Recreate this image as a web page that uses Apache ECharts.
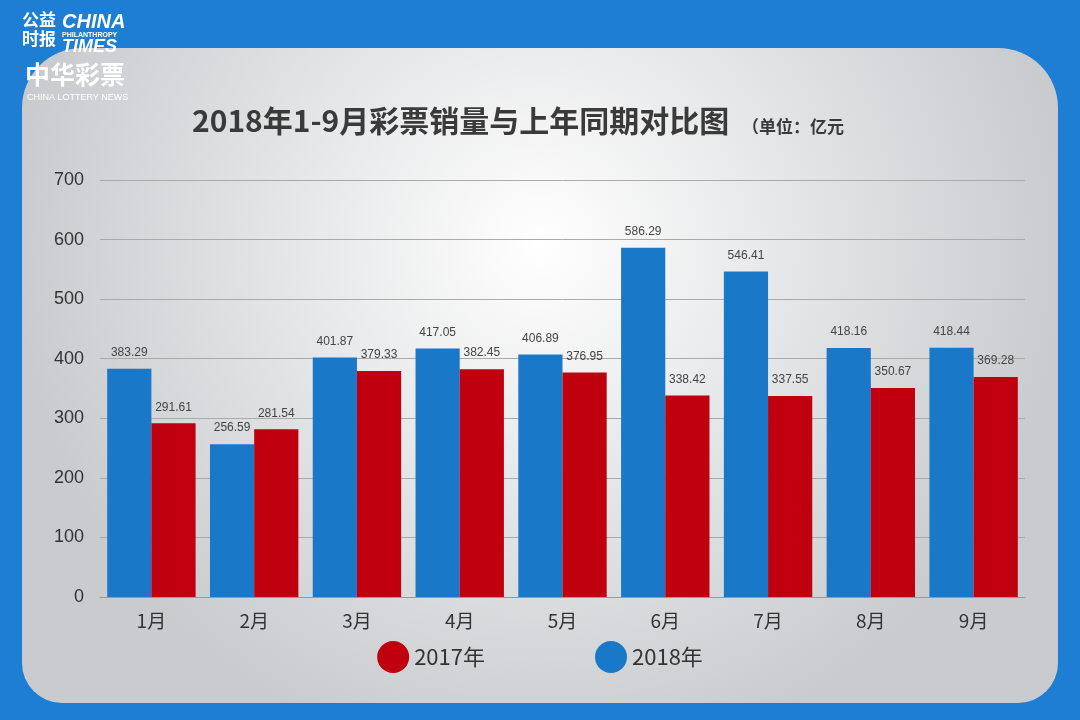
<!DOCTYPE html>
<html>
<head>
<meta charset="UTF-8">
<script src="https://cdn.jsdelivr.net/npm/echarts@6/dist/echarts.min.js"></script>
<style>html,body{margin:0;padding:0;background:#1e7ed3;}</style>
</head>
<body>
<div id="main" style="width:1080px;height:720px;"></div>
<script>
var months = ['1月','2月','3月','4月','5月','6月','7月','8月','9月'];
var sales2018 = [383.29, 256.59, 401.87, 417.05, 406.89, 586.29, 546.41, 418.16, 418.44];
var sales2017 = [291.61, 281.54, 379.33, 382.45, 376.95, 338.42, 337.55, 350.67, 369.28];

var chart = echarts.init(document.getElementById('main'));
var lbl = { show: true, position: 'top', color: '#444', fontSize: 12, distance: 10, formatter: function (p) { return p.value.toFixed(2); } };
chart.setOption({
    backgroundColor: '#1e7ed3',
    graphic: [
        { type: 'rect', z: -10, shape: { x: 22, y: 48, width: 1036, height: 655, r: [60, 60, 40, 40] },
          style: { fill: new echarts.graphic.RadialGradient(0.5, 0.3, 0.8, [{ offset: 0, color: '#ffffff' }, { offset: 1, color: '#c9cbce' }]) } },
        { type: 'text', left: 22, top: 10, style: { text: '公益\n时报', fill: '#fff', font: 'bold 17px "Noto Sans CJK SC"', lineHeight: 19 } },
        { type: 'text', left: 62, top: 12, style: { text: 'CHINA', fill: '#fff', font: 'bold italic 20px "Liberation Sans"' } },
        { type: 'text', left: 62, top: 32, style: { text: 'PHILANTHROPY', fill: '#fff', font: 'bold 7px "Liberation Sans"' } },
        { type: 'text', left: 62, top: 38, style: { text: 'TIMES', fill: '#fff', font: 'bold italic 18px "Liberation Sans"' } },
        { type: 'text', left: 25, top: 62, style: { text: '中华彩票', fill: '#fff', font: 'bold 25px "Noto Sans CJK SC"' } },
        { type: 'text', left: 27, top: 93, style: { text: 'CHINA LOTTERY NEWS', fill: '#fff', font: '9px "Liberation Sans"' } },
        { type: 'text', left: 192, top: 106, style: { text: '2018年1-9月彩票销量与上年同期对比图', fill: '#3a3a3a', font: 'bold 30px "Noto Sans CJK SC"' } },
        { type: 'text', left: 742, top: 118, style: { text: '（单位：亿元', fill: '#3a3a3a', font: 'bold 17px "Noto Sans CJK SC"' } }
    ],
    grid: { left: 100, right: 55, top: 180, bottom: 123 },
    legend: {
        data: ['2017年', '2018年'], bottom: 42, left: 'center', icon: 'circle',
        itemWidth: 32, itemHeight: 32, itemGap: 110,
        textStyle: { fontSize: 22, color: '#333', fontFamily: 'Noto Sans CJK SC' }
    },
    xAxis: {
        type: 'category', data: months,
        axisLine: { lineStyle: { color: '#999' } }, axisTick: { show: false },
        axisLabel: { fontSize: 19, color: '#333', margin: 14, fontFamily: 'Noto Sans CJK SC' }
    },
    yAxis: {
        type: 'value', min: 0, max: 700, interval: 100,
        axisLine: { show: false }, axisTick: { show: false },
        axisLabel: { fontSize: 18, color: '#333', margin: 16 },
        splitLine: { lineStyle: { color: '#aaa' } }
    },
    series: [
        { name: '2018年', type: 'bar', data: sales2018, itemStyle: { color: '#1a78c9' }, barGap: '0%', barCategoryGap: '14%', label: lbl },
        { name: '2017年', type: 'bar', data: sales2017, itemStyle: { color: '#c0000e' }, label: lbl }
    ]
});
</script>
</body>
</html>
